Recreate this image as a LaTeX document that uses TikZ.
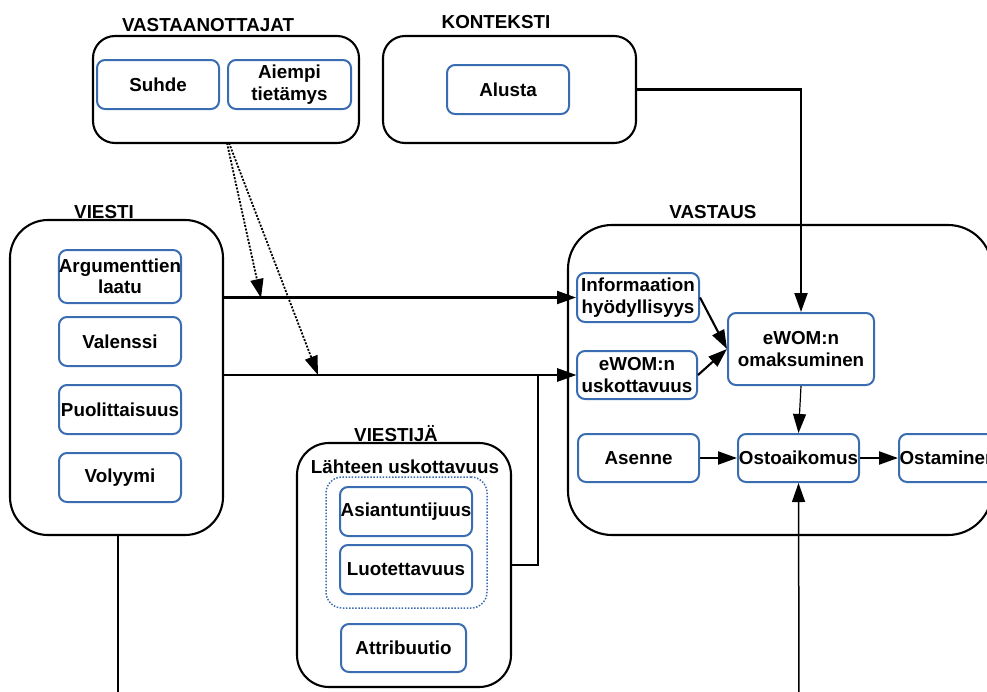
\documentclass[tikz,border=0pt]{standalone}
\usepackage{fontspec}
\setmainfont{Liberation Sans}
\usetikzlibrary{arrows.meta}
\definecolor{boxblue}{RGB}{58,108,178}
\tikzset{
  group/.style={draw=black, line width=2.1pt, rounded corners=#1, inner sep=0pt},
  group/.default=22pt,
  item/.style={draw=boxblue, line width=2pt, rounded corners=8pt, align=center,
    inner sep=0pt, font=\bfseries\fontsize{18.8}{21.5}\selectfont},
  title/.style={font=\bfseries\fontsize{18.8}{21.5}\selectfont, inner sep=0pt},
  tip/.style={-{Triangle[length=19pt,width=13pt]}},
  arr/.style={line width=2.1pt, tip},
  thinarr/.style={line width=1.2pt, tip},
  dotarr/.style={line width=1.8pt, dash pattern=on 2pt off 1.5pt, tip},
}
\newcommand{\groupbox}[6]{% name, x1, y1, x2, y2, radius
  \node[group=#6, minimum width={(#4-#2)*1pt}, minimum height={(#5-#3)*1pt}]
    (#1) at ({(#2+#4)/2},{(#3+#5)/2}) {};}
\begin{document}
\begin{tikzpicture}[x=1pt, y=-1pt]
\useasboundingbox (0,0) rectangle (987,691);

% ---- group frames ----
\groupbox{gvast}{93}{36}{359}{143}{22pt}
\groupbox{gkont}{383}{36}{636}{143}{22pt}
\groupbox{gviesti}{10}{220}{223}{535}{38pt}
\groupbox{gvastaus}{568}{225}{992}{535}{44pt}
\groupbox{gviestija}{297}{443}{511}{687}{32pt}

\node[title] (tvast) at (208,25) {VASTAANOTTAJAT};
\node[title] (tkont) at (496,22) {KONTEKSTI};
\node[title] (tviesti) at (104,212) {VIESTI};
\node[title] (tvastaus) at (713,212) {VASTAUS};
\node[title] (tviestija) at (396,434) {VIESTIJÄ};
\node[title] (tlahde) at (405,467) {Lähteen uskottavuus};

% dotted frame round the two credibility factors
\node[draw=boxblue, line width=1.5pt, dash pattern=on 1.5pt off 1.6pt,
  rounded corners=16pt, minimum width=161pt, minimum height=131pt, inner sep=0pt]
  (gcred) at (406.5,542.5) {};

% ---- items ----
\node[item, minimum width=122pt, minimum height=49pt] (suhde) at (158,84.5) {Suhde};
\node[item, minimum width=123pt, minimum height=49pt] (aiempi) at (289.5,84.5) {Aiempi\\tietämys};
\node[item, minimum width=122pt, minimum height=49pt] (alusta) at (508,89.5) {Alusta};

\node[item, minimum width=122pt, minimum height=53pt] (arg) at (120,276.5) {Argumenttien\\laatu};
\node[item, minimum width=122pt, minimum height=49pt] (valenssi) at (120,341.5) {Valenssi};
\node[item, minimum width=122pt, minimum height=49pt] (puol) at (120,409.5) {Puolittaisuus};
\node[item, minimum width=122pt, minimum height=49pt] (volyymi) at (120,477.5) {Volyymi};

\node[item, minimum width=122pt, minimum height=49pt] (info) at (638,297.5) {Informaation\\hyödyllisyys};
\node[item, minimum width=120pt, minimum height=48pt] (uskott) at (637,375) {eWOM:n\\uskottavuus};
\node[item, minimum width=146pt, minimum height=72pt] (omaks) at (801,349) {eWOM:n\\omaksuminen};
\node[item, minimum width=121pt, minimum height=48pt] (asenne) at (638.5,458) {Asenne};
\node[item, minimum width=121pt, minimum height=48pt] (osto) at (798.5,458) {Ostoaikomus};
\node[item, minimum width=122pt, minimum height=48pt, anchor=west, text width=122pt, align=left] (ostam) at (898,458) {\hspace*{0.5pt}Ostaminen};

\node[item, minimum width=132pt, minimum height=49pt] (asiant) at (406,511.5) {Asiantuntijuus};
\node[item, minimum width=132pt, minimum height=49pt] (luot) at (406,569.5) {Luotettavuus};
\node[item, minimum width=125pt, minimum height=48pt] (attr) at (403.5,648) {Attribuutio};

% ---- connectors ----
\coordinate (vjout) at (gviestija.east |- 0,565);
\coordinate (vjbend) at (538,565);
\coordinate (dstart1) at (227,143);
\coordinate (dstart2) at (229,143);
\coordinate (dend1) at (261,298);
\coordinate (dend2) at (318,375);
\coordinate (vbottom) at (118,700);
\coordinate (obottom) at (799,700);

\draw[arr] (gviesti.east |- info.west) -- (info.west);
\draw[arr] (vjout) -- (vjbend) |- (uskott.west);
\draw[arr] (gviesti.east |- uskott.west) -- (uskott.west);
\draw[dotarr] (dstart1) -- (dend1);
\draw[dotarr] (dstart2) -- (dend2);
\draw[line width=1.5pt] (gviesti.south -| vbottom) -- (vbottom);

\draw[arr] (gkont.east) -| (omaks.north);
\draw[arr] (info.east) -- (omaks.west);
\draw[arr] (uskott.east) -- (omaks.west);
\draw[thinarr] (omaks.south) -- (osto.north);
\draw[arr] (asenne.east) -- (osto.west);
\draw[arr] (osto.east) -- (ostam.west);
\draw[line width=1.5pt, tip] (obottom) -- (osto.south);
\end{tikzpicture}
\end{document}
